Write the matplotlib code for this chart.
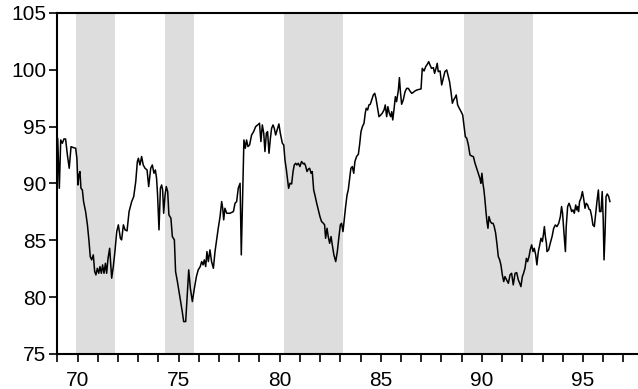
import matplotlib
matplotlib.use("Agg")
import matplotlib.pyplot as plt
from matplotlib.ticker import MultipleLocator

# index, roughly monthly (x = year - 1900)
years = [
    69.00, 69.02, 69.10, 69.17, 69.25, 69.33, 69.41, 69.50, 69.59, 69.68, 69.79, 69.91,
    69.97, 70.02, 70.07, 70.12, 70.17, 70.24, 70.30, 70.40, 70.49, 70.57, 70.63, 70.70,
    70.78, 70.85, 70.91, 70.98, 71.05, 71.11, 71.18, 71.24, 71.31, 71.38, 71.44, 71.51,
    71.59, 71.69, 71.77, 71.85, 71.94, 72.02, 72.12, 72.18, 72.27, 72.35, 72.45, 72.55,
    72.68, 72.78, 72.88, 72.96, 73.01, 73.09, 73.17, 73.25, 73.34, 73.44, 73.52, 73.62,
    73.70, 73.78, 73.85, 73.91, 73.96, 74.03, 74.10, 74.16, 74.21, 74.26, 74.33, 74.39,
    74.46, 74.52, 74.62, 74.69, 74.79, 74.85, 74.94, 75.02, 75.10, 75.18, 75.25, 75.35,
    75.41, 75.50, 75.58, 75.68, 75.78, 75.88, 75.97, 76.07, 76.14, 76.21, 76.27, 76.34,
    76.40, 76.47, 76.55, 76.63, 76.72, 76.80, 76.88, 76.96, 77.05, 77.13, 77.18, 77.23,
    77.29, 77.38, 77.54, 77.71, 77.79, 77.87, 77.95, 78.04, 78.10, 78.23, 78.30, 78.36,
    78.43, 78.51, 78.61, 78.71, 78.81, 78.91, 79.00, 79.07, 79.14, 79.21, 79.27, 79.34,
    79.40, 79.47, 79.54, 79.60, 79.67, 79.73, 79.80, 79.90, 79.96, 80.03, 80.13, 80.20,
    80.26, 80.33, 80.39, 80.44, 80.51, 80.59, 80.66, 80.72, 80.79, 80.85, 80.92, 81.00,
    81.08, 81.17, 81.22, 81.28, 81.35, 81.41, 81.48, 81.55, 81.61, 81.68, 81.74, 81.83,
    81.91, 81.99, 82.07, 82.16, 82.22, 82.27, 82.34, 82.40, 82.47, 82.54, 82.60, 82.68,
    82.77, 82.85, 82.93, 83.00, 83.06, 83.13, 83.20, 83.26, 83.33, 83.39, 83.46, 83.52,
    83.59, 83.66, 83.72, 83.80, 83.89, 83.95, 84.02, 84.09, 84.17, 84.23, 84.28, 84.35,
    84.41, 84.48, 84.55, 84.63, 84.70, 84.76, 84.83, 84.91, 85.00, 85.07, 85.16, 85.22,
    85.29, 85.35, 85.42, 85.49, 85.54, 85.59, 85.65, 85.72, 85.78, 85.87, 85.92, 85.97,
    86.03, 86.11, 86.20, 86.28, 86.36, 86.44, 86.53, 86.61, 86.69, 86.79, 86.89, 86.99,
    87.05, 87.14, 87.22, 87.30, 87.37, 87.43, 87.51, 87.60, 87.66, 87.73, 87.79, 87.84,
    87.93, 88.01, 88.09, 88.17, 88.26, 88.34, 88.40, 88.47, 88.54, 88.60, 88.67, 88.73,
    88.80, 88.88, 88.97, 89.05, 89.11, 89.18, 89.25, 89.33, 89.41, 89.49, 89.58, 89.66,
    89.74, 89.82, 89.90, 89.95, 90.00, 90.05, 90.10, 90.15, 90.20, 90.25, 90.30, 90.35,
    90.42, 90.48, 90.55, 90.61, 90.68, 90.75, 90.81, 90.88, 90.94, 91.01, 91.08, 91.14,
    91.22, 91.31, 91.39, 91.47, 91.55, 91.64, 91.72, 91.80, 91.87, 91.93, 92.00, 92.06,
    92.13, 92.20, 92.26, 92.33, 92.39, 92.46, 92.53, 92.59, 92.66, 92.72, 92.79, 92.86,
    92.92, 92.99, 93.04, 93.09, 93.14, 93.19, 93.22, 93.30, 93.38, 93.47, 93.55, 93.63,
    93.71, 93.80, 93.88, 93.94, 93.99, 94.06, 94.13, 94.17, 94.24, 94.31, 94.37, 94.44,
    94.50, 94.57, 94.64, 94.69, 94.74, 94.78, 94.83, 94.90, 94.97, 95.03, 95.10, 95.16,
    95.23, 95.30, 95.36, 95.43, 95.49, 95.56, 95.63, 95.69, 95.76, 95.82, 95.89, 95.95,
    96.00, 96.04, 96.09, 96.14, 96.20, 96.27, 96.33,
]
values = [
    94.0, 93.98, 89.58, 93.83, 93.54, 93.92, 93.92, 92.5, 91.34, 93.24, 93.16, 93.1,
    92.2, 89.87, 90.75, 91.05, 89.58, 89.43, 88.41, 87.53, 86.36, 84.89, 83.57, 83.28,
    83.72, 82.25, 81.96, 82.54, 82.1, 82.69, 82.1, 82.84, 82.1, 82.98, 82.1, 83.42,
    84.3, 81.67, 82.69, 84.01, 85.77, 86.36, 85.18, 85.04, 86.36, 85.92, 85.83, 87.53,
    88.41, 88.85, 90.17, 91.93, 92.22, 91.63, 92.37, 91.63, 91.34, 91.19, 89.73, 91.34,
    91.63, 90.9, 91.19, 90.46, 88.99, 85.92, 89.58, 89.87, 89.43, 87.38, 88.99, 89.73,
    89.29, 87.24, 86.94, 85.33, 85.04, 82.25, 81.37, 80.49, 79.61, 78.73, 77.85, 77.85,
    79.61, 82.4, 80.79, 79.61, 80.79, 81.81, 82.4, 82.69, 83.13, 82.84, 83.28, 82.69,
    84.01, 83.13, 84.16, 83.13, 82.54, 84.01, 85.04, 86.06, 87.09, 88.41, 87.82, 86.8,
    87.82, 87.38, 87.38, 87.53, 88.26, 88.41, 89.58, 90.02, 83.72, 93.83, 93.1, 93.83,
    93.25, 93.39, 94.27, 94.56, 95.0, 95.15, 95.3, 93.69, 95.15, 94.42, 92.81, 94.42,
    94.56, 92.66, 93.98, 94.86, 95.15, 94.86, 94.27, 94.86, 95.24, 94.42, 93.54, 93.39,
    92.07, 91.19, 90.31, 89.58, 90.02, 89.96, 91.05, 91.63, 91.78, 91.63, 91.78, 91.49,
    91.93, 91.72, 91.78, 91.55, 91.05, 91.25, 91.34, 90.9, 91.05, 89.43, 88.99, 88.26,
    87.68, 87.09, 86.65, 86.5, 86.36, 85.18, 86.06, 85.33, 84.74, 85.33, 84.6, 83.72,
    83.13, 84.01, 85.33, 86.36, 86.5, 85.77, 86.94, 87.97, 88.99, 89.43, 90.46, 91.34,
    91.49, 90.9, 91.93, 92.37, 92.57, 93.39, 94.56, 95.0, 95.3, 96.18, 96.62, 96.47,
    96.91, 96.97, 97.35, 97.79, 97.93, 97.5, 96.76, 95.88, 96.03, 96.18, 96.47, 96.91,
    95.88, 96.76, 96.18, 95.88, 96.32, 95.59, 96.47, 97.64, 97.2, 98.23, 99.31, 98.08,
    96.97, 97.35, 98.08, 98.37, 98.37, 98.14, 97.93, 98.02, 98.14, 98.23, 98.28, 98.32,
    100.13, 99.9, 100.28, 100.49, 100.72, 100.43, 100.13, 100.19, 99.69, 100.13, 100.57, 99.84,
    99.9, 98.67, 99.25, 99.84, 99.99, 99.4, 98.96, 98.08, 97.06, 97.35, 97.55, 97.79,
    96.91, 96.62, 96.32, 96.03, 95.15, 94.12, 93.98, 93.39, 92.51, 92.42, 92.36, 91.78,
    91.34, 90.9, 90.46, 90.02, 90.9, 90.02, 89.43, 88.55, 87.53, 86.65, 86.06, 87.09,
    86.65, 86.5, 86.5, 86.21, 85.62, 84.6, 83.57, 83.28, 82.84, 81.96, 81.37, 81.81,
    81.52, 81.22, 81.96, 82.1, 81.08, 82.1, 82.16, 81.52, 81.22, 80.93, 81.81, 82.1,
    82.54, 83.42, 83.13, 83.57, 84.16, 84.6, 84.01, 84.3, 83.72, 82.84, 84.01, 84.6,
    85.18, 84.89, 85.48, 86.21, 85.33, 84.74, 84.01, 84.16, 84.74, 85.33, 86.06, 86.35,
    86.21, 86.5, 87.09, 87.97, 87.38, 85.62, 84.01, 86.21, 87.97, 88.26, 87.97, 87.53,
    87.68, 87.38, 88.11, 87.68, 87.97, 87.53, 88.41, 88.7, 89.29, 88.7, 87.82, 88.26,
    88.11, 87.73, 87.68, 87.09, 86.35, 86.21, 87.38, 88.41, 89.43, 87.53, 87.53, 89.29,
    86.79, 83.28, 85.62, 88.85, 89.08, 88.85, 88.41,
]

# shaded periods (start, end)
shade_start = [69.94, 74.33, 80.23, 89.13]
shade_end = [71.85, 75.75, 83.13, 92.53]

x_ticks = [70, 75, 80, 85, 90, 95]
x_labels = ["70", "75", "80", "85", "90", "95"]
y_ticks = [75, 80, 85, 90, 95, 100, 105]

plt.rcParams['font.family'] = ['Liberation Sans', 'DejaVu Sans']

fig = plt.figure(figsize=(6.38, 3.89), dpi=100)
ax = fig.add_axes([0.0898, 0.09, 0.9102, 0.8766])

for s, e in zip(shade_start, shade_end):
    ax.axvspan(s, e, color='#dddddd', lw=0, zorder=0)

ax.plot(years, values, color='black', lw=1.1, zorder=2)

ax.set_xlim(69, 97.72)
ax.set_ylim(75, 105)
ax.set_yticks(y_ticks)
ax.xaxis.set_minor_locator(MultipleLocator(1))
ax.set_xticks(x_ticks)
ax.set_xticklabels(x_labels)

ax.spines['right'].set_visible(False)
for sp in ['left', 'bottom', 'top']:
    ax.spines[sp].set_linewidth(1.5)

ax.tick_params(axis='both', which='both', direction='out', length=6, width=1.2,
               labelsize=15, colors='black')
ax.tick_params(axis='y', pad=2)
ax.tick_params(axis='x', pad=6)

fig.savefig("out.png", dpi=100)
